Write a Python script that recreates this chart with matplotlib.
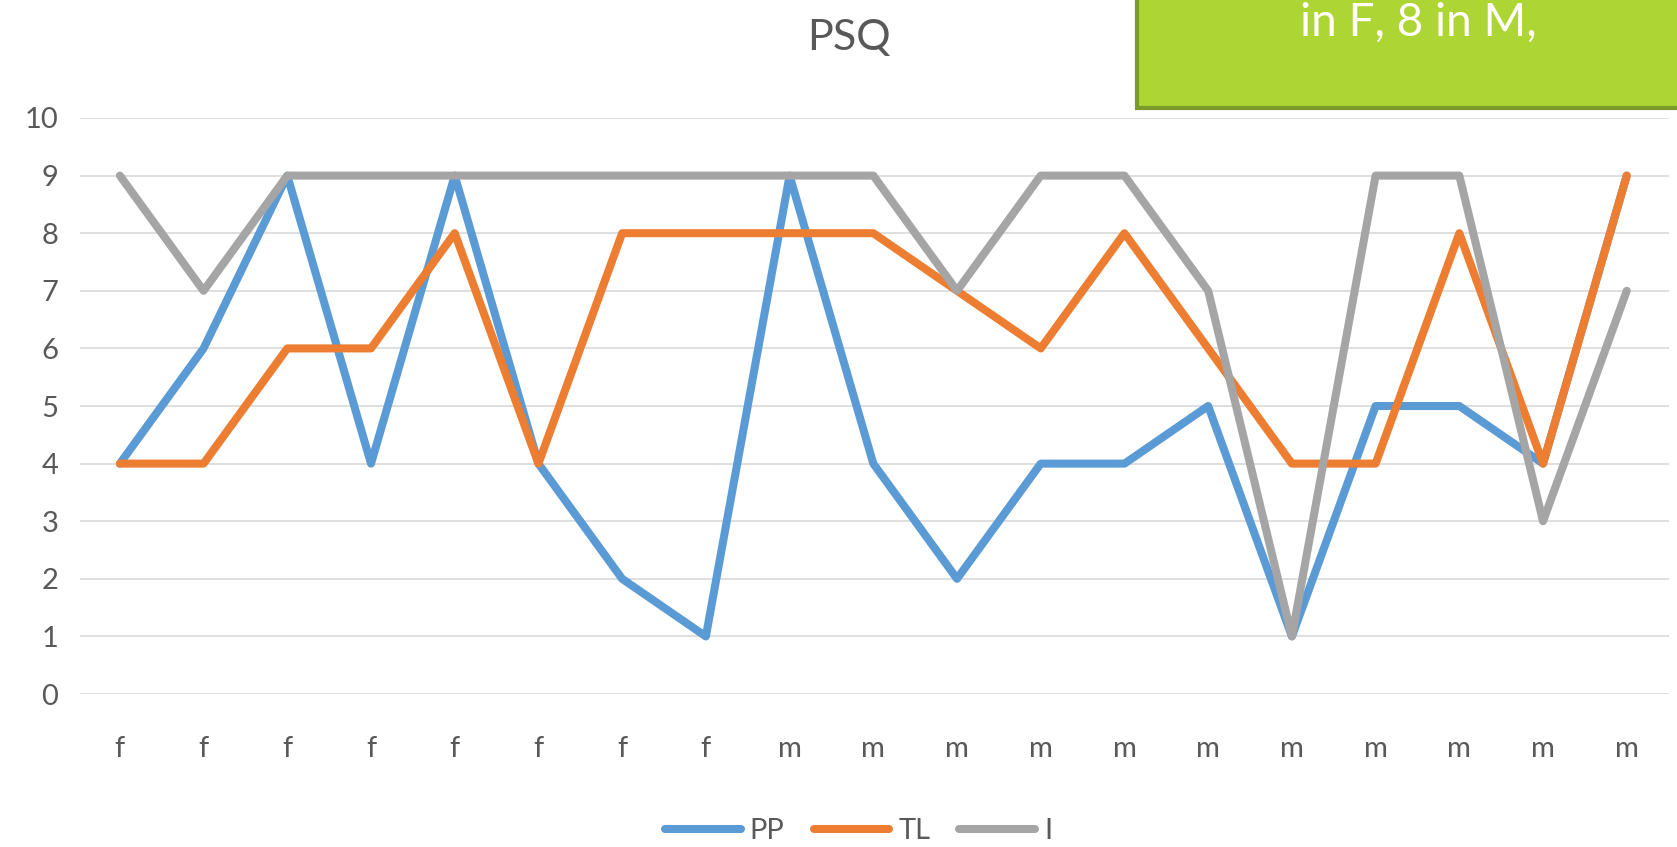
import matplotlib.pyplot as plt
from matplotlib.patches import Rectangle

# PSQ scores per respondent
groups = ['f'] * 8 + ['m'] * 11
pp = [4, 6, 9, 4, 9, 4, 2, 1, 9, 4, 2, 4, 4, 5, 1, 5, 5, 4, 9]
tl = [4, 4, 6, 6, 8, 4, 8, 8, 8, 8, 7, 6, 8, 6, 4, 4, 8, 4, 9]
ii = [9, 7, 9, 9, 9, 9, 9, 9, 9, 9, 7, 9, 9, 7, 1, 9, 9, 3, 7]

series = [('PP', pp, '#5B9BD5'), ('TL', tl, '#ED7D31'), ('I', ii, '#A5A5A5')]

plt.rcParams['font.family'] = ['Lato', 'DejaVu Sans']

fig = plt.figure(figsize=(16.77, 8.47), dpi=100)
ax = fig.add_axes([0.048, 0.1806, 0.947, 0.6801])

x = list(range(len(groups)))
for name, vals, col in series:
    ax.plot(x, vals, color=col, lw=5.8, label=name,
            solid_joinstyle='round', solid_capstyle='round')

ax.set_xlim(-0.47, 18.5)
ax.set_ylim(0, 10)
ax.set_yticks(range(0, 11))
ax.set_xticks(x)
ax.set_xticklabels(groups)
ax.grid(axis='y', color='#D9D9D9', lw=1.2)
ax.set_axisbelow(True)
for s in ax.spines.values():
    s.set_visible(False)
ax.tick_params(length=0, labelsize=21, colors='#595959', pad=16)
ax.tick_params(axis='x', pad=30)

fig.text(0.506, 0.955, 'PSQ', ha='center', va='center', fontsize=31, color='#595959')

leg = fig.legend(loc='center', bbox_to_anchor=(0.512, 0.019), ncol=3, frameon=False,
                 fontsize=21, handlelength=2.6, columnspacing=1.0, handletextpad=0.3)
for t in leg.get_texts():
    t.set_color('#595959')

# green callout box in the upper right
box = Rectangle((1137 / 1677, 1 - 108 / 847), 0.35, 0.2, transform=fig.transFigure,
                facecolor='#ADD533', edgecolor='#7A9A2A', lw=3, zorder=5)
fig.patches.append(box)
fig.text(1418 / 1677, 1 - 36 / 847, 'in F, 8 in M,', ha='center', va='baseline',
         fontsize=33, color='white', zorder=6)

fig.savefig('out.png', dpi=100)
